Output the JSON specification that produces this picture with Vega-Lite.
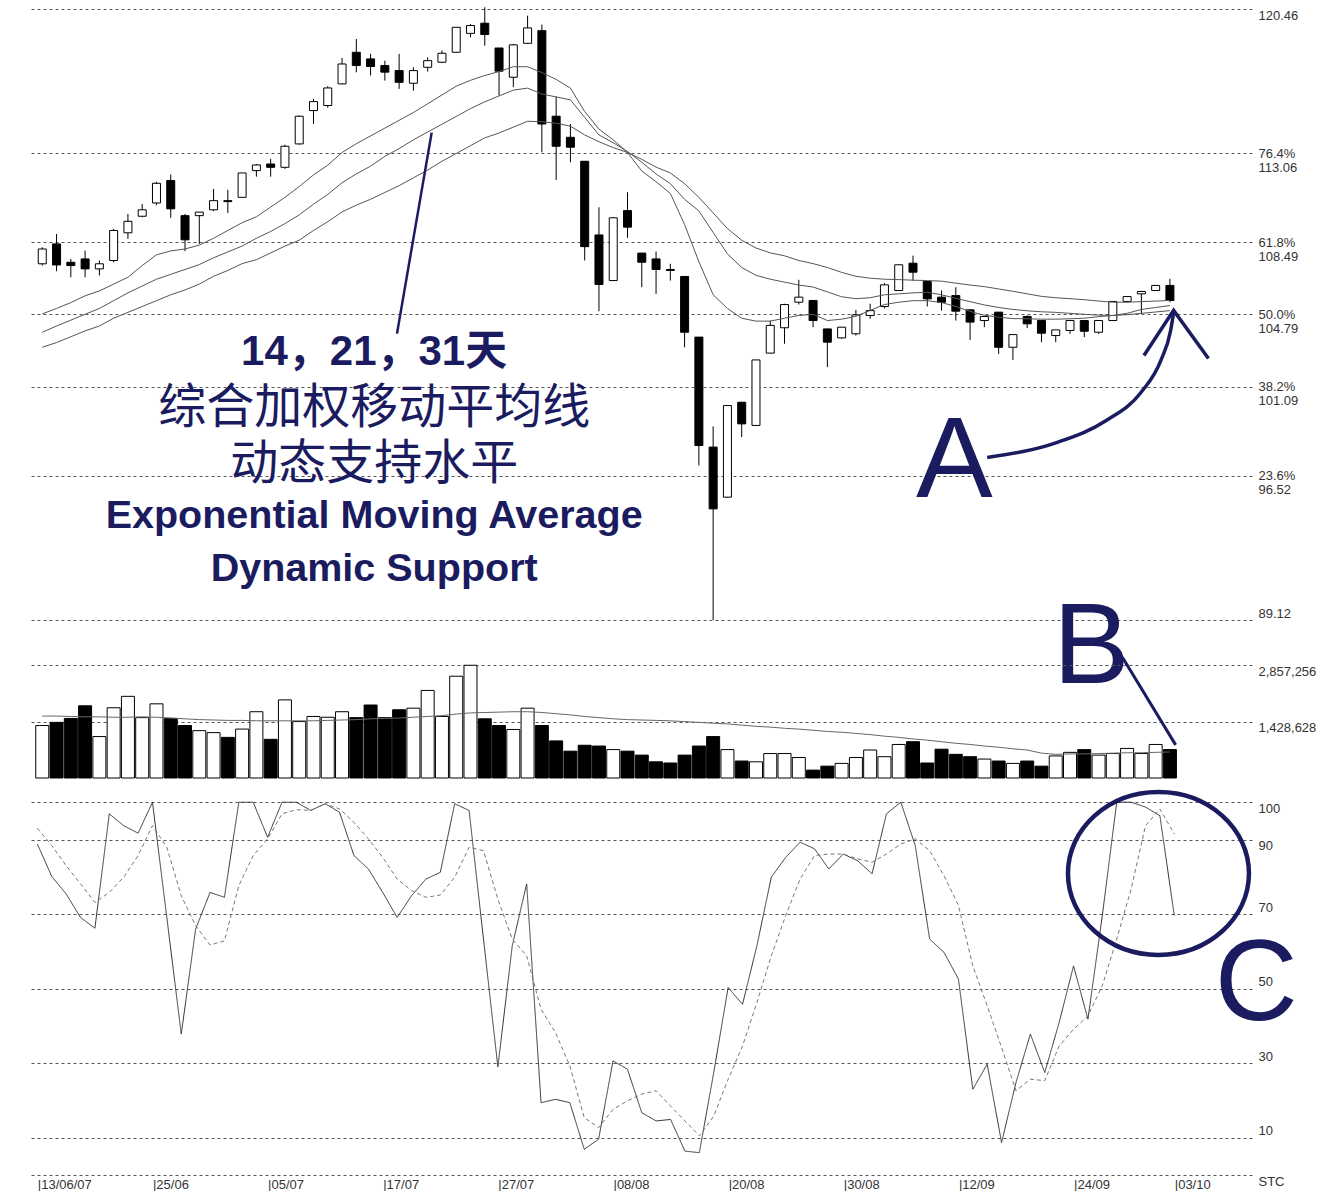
{
  "$schema": "https://vega.github.io/schema/vega-lite/v6.json",
  "padding": {"left": 30, "top": 6, "right": 0, "bottom": 0},
  "background": "white",
  "spacing": 0,
  "bounds": "flush",
  "config": {
    "view": {"stroke": null},
    "axis": {"labelFont": "Liberation Sans", "labelFontSize": 13, "labelColor": "#333"}
  },
  "datasets": {
    "d": [
      {"i":0,"o":107.39,"h":108.24,"l":107.30,"c":108.15,"v":1330000,"vm":1570000,"e14":104.82,"e21":103.88,"e31":103.11,"k":88.8,"d":93.0},
      {"i":1,"o":108.41,"h":108.92,"l":107.01,"c":107.33,"v":1410000,"vm":1570000,"e14":105.1,"e21":104.2,"e31":103.35,"k":80.1,"d":88.4},
      {"i":2,"o":107.47,"h":107.64,"l":106.70,"c":107.30,"v":1510000,"vm":1560000,"e14":105.4,"e21":104.5,"e31":103.65,"k":75.4,"d":83.0},
      {"i":3,"o":107.64,"h":108.07,"l":106.70,"c":107.13,"v":1830000,"vm":1550000,"e14":105.75,"e21":104.8,"e31":103.95,"k":69.1,"d":78.1},
      {"i":4,"o":107.13,"h":107.56,"l":106.79,"c":107.39,"v":1050000,"vm":1550000,"e14":106.0,"e21":105.1,"e31":104.2,"k":66.2,"d":73.1},
      {"i":5,"o":107.56,"h":109.18,"l":107.47,"c":109.10,"v":1780000,"vm":1540000,"e14":106.35,"e21":105.5,"e31":104.6,"k":96.9,"d":75.8},
      {"i":6,"o":108.98,"h":109.95,"l":108.67,"c":109.57,"v":2070000,"vm":1540000,"e14":106.7,"e21":105.9,"e31":104.9,"k":93.7,"d":79.9},
      {"i":7,"o":109.83,"h":110.46,"l":109.78,"c":110.16,"v":1530000,"vm":1550000,"e14":107.3,"e21":106.25,"e31":105.2,"k":91.7,"d":85.7},
      {"i":8,"o":110.51,"h":111.60,"l":110.40,"c":111.52,"v":1880000,"vm":1540000,"e14":107.85,"e21":106.6,"e31":105.5,"k":100,"d":93.7},
      {"i":9,"o":111.66,"h":111.97,"l":109.75,"c":110.21,"v":1510000,"vm":1520000,"e14":108.05,"e21":106.85,"e31":105.8,"k":69.0,"d":87.9},
      {"i":10,"o":109.86,"h":109.95,"l":108.04,"c":108.62,"v":1330000,"vm":1500000,"e14":108.15,"e21":107.1,"e31":106.05,"k":37.8,"d":74.9},
      {"i":11,"o":109.86,"h":110.04,"l":108.41,"c":110.04,"v":1200000,"vm":1480000,"e14":108.35,"e21":107.35,"e31":106.35,"k":66.0,"d":66.9},
      {"i":12,"o":110.16,"h":111.23,"l":110.09,"c":110.63,"v":1150000,"vm":1470000,"e14":108.7,"e21":107.7,"e31":106.75,"k":75.8,"d":61.7},
      {"i":13,"o":110.63,"h":111.18,"l":110.00,"c":110.58,"v":1030000,"vm":1460000,"e14":109.1,"e21":108.0,"e31":107.05,"k":74.5,"d":62.8},
      {"i":14,"o":110.80,"h":112.05,"l":110.80,"c":112.05,"v":1240000,"vm":1460000,"e14":109.5,"e21":108.3,"e31":107.4,"k":100,"d":77.6},
      {"i":15,"o":112.17,"h":112.51,"l":111.86,"c":112.46,"v":1680000,"vm":1450000,"e14":109.8,"e21":108.7,"e31":107.6,"k":100,"d":85.7},
      {"i":16,"o":112.51,"h":112.77,"l":111.86,"c":112.34,"v":980000,"vm":1450000,"e14":110.3,"e21":109.05,"e31":107.95,"k":90.6,"d":90.2},
      {"i":17,"o":112.34,"h":113.50,"l":112.26,"c":113.42,"v":1980000,"vm":1450000,"e14":110.8,"e21":109.45,"e31":108.3,"k":100,"d":96.9},
      {"i":18,"o":113.54,"h":115.00,"l":113.50,"c":114.96,"v":1430000,"vm":1450000,"e14":111.35,"e21":109.9,"e31":108.6,"k":100,"d":98.0},
      {"i":19,"o":115.25,"h":115.85,"l":114.56,"c":115.71,"v":1560000,"vm":1450000,"e14":111.95,"e21":110.45,"e31":109.1,"k":97.8,"d":97.8},
      {"i":20,"o":115.51,"h":116.50,"l":115.40,"c":116.41,"v":1540000,"vm":1460000,"e14":112.45,"e21":110.95,"e31":109.55,"k":99.6,"d":99.6},
      {"i":21,"o":116.62,"h":117.95,"l":116.60,"c":117.64,"v":1680000,"vm":1470000,"e14":113.1,"e21":111.55,"e31":110.05,"k":97.3,"d":98.2},
      {"i":22,"o":118.24,"h":118.92,"l":117.21,"c":117.56,"v":1530000,"vm":1480000,"e14":113.55,"e21":112.0,"e31":110.4,"k":85.7,"d":94.6},
      {"i":23,"o":117.90,"h":118.16,"l":117.05,"c":117.51,"v":1850000,"vm":1500000,"e14":113.95,"e21":112.4,"e31":110.7,"k":82.1,"d":90.2},
      {"i":24,"o":117.56,"h":117.81,"l":116.79,"c":117.22,"v":1530000,"vm":1510000,"e14":114.35,"e21":112.9,"e31":111.05,"k":75.8,"d":85.2},
      {"i":25,"o":117.30,"h":118.16,"l":116.36,"c":116.70,"v":1730000,"vm":1520000,"e14":114.75,"e21":113.3,"e31":111.4,"k":69.1,"d":79.4},
      {"i":26,"o":116.65,"h":117.47,"l":116.27,"c":117.30,"v":1770000,"vm":1540000,"e14":115.15,"e21":113.75,"e31":111.8,"k":74.9,"d":76.3},
      {"i":27,"o":117.47,"h":117.98,"l":117.25,"c":117.81,"v":2220000,"vm":1560000,"e14":115.6,"e21":114.15,"e31":112.2,"k":79.4,"d":74.5},
      {"i":28,"o":117.73,"h":118.33,"l":117.68,"c":118.19,"v":1560000,"vm":1580000,"e14":116.05,"e21":114.55,"e31":112.65,"k":81.2,"d":75.1},
      {"i":29,"o":118.24,"h":119.52,"l":118.20,"c":119.52,"v":2580000,"vm":1620000,"e14":116.5,"e21":114.95,"e31":113.05,"k":99.6,"d":79.9},
      {"i":30,"o":119.21,"h":119.69,"l":119.01,"c":119.61,"v":2857256,"vm":1650000,"e14":116.8,"e21":115.35,"e31":113.45,"k":97.8,"d":87.9},
      {"i":31,"o":119.73,"h":120.55,"l":118.58,"c":119.15,"v":1500000,"vm":1660000,"e14":117.05,"e21":115.7,"e31":113.85,"k":63.3,"d":87.0},
      {"i":32,"o":118.46,"h":118.46,"l":116.02,"c":117.27,"v":1330000,"vm":1670000,"e14":117.25,"e21":116.0,"e31":114.1,"k":29.0,"d":74.0},
      {"i":33,"o":116.96,"h":118.67,"l":116.45,"c":118.62,"v":1230000,"vm":1680000,"e14":117.5,"e21":116.3,"e31":114.4,"k":61.5,"d":63.3},
      {"i":34,"o":118.70,"h":120.12,"l":118.67,"c":119.49,"v":1770000,"vm":1680000,"e14":117.5,"e21":116.4,"e31":114.7,"k":78.1,"d":58.8},
      {"i":35,"o":119.35,"h":119.66,"l":113.11,"c":114.56,"v":1330000,"vm":1660000,"e14":117.2,"e21":116.1,"e31":114.68,"k":19.4,"d":44.5},
      {"i":36,"o":114.96,"h":115.97,"l":111.69,"c":113.42,"v":940000,"vm":1630000,"e14":116.85,"e21":115.95,"e31":114.6,"k":20.3,"d":38.2},
      {"i":37,"o":113.88,"h":114.56,"l":112.60,"c":113.37,"v":680000,"vm":1600000,"e14":116.4,"e21":115.8,"e31":114.45,"k":19.4,"d":29.3},
      {"i":38,"o":112.65,"h":112.65,"l":107.56,"c":108.27,"v":830000,"vm":1560000,"e14":115.2,"e21":114.9,"e31":114.0,"k":6.9,"d":15.4},
      {"i":39,"o":108.87,"h":110.29,"l":104.96,"c":106.33,"v":810000,"vm":1530000,"e14":114.3,"e21":114.0,"e31":113.65,"k":9.6,"d":12.7},
      {"i":40,"o":106.53,"h":109.78,"l":106.50,"c":109.75,"v":720000,"vm":1500000,"e14":113.75,"e21":113.6,"e31":113.35,"k":30.6,"d":17.6},
      {"i":41,"o":110.12,"h":111.06,"l":108.72,"c":109.27,"v":680000,"vm":1480000,"e14":113.1,"e21":113.15,"e31":113.1,"k":28.4,"d":19.9},
      {"i":42,"o":107.94,"h":107.94,"l":106.19,"c":107.47,"v":580000,"vm":1470000,"e14":112.15,"e21":112.6,"e31":112.75,"k":16.7,"d":21.7},
      {"i":43,"o":107.64,"h":108.02,"l":105.85,"c":107.10,"v":410000,"vm":1460000,"e14":111.6,"e21":112.0,"e31":112.35,"k":14.5,"d":22.6},
      {"i":44,"o":107.10,"h":107.39,"l":106.53,"c":107.05,"v":380000,"vm":1450000,"e14":111.0,"e21":111.5,"e31":112.05,"k":14.9,"d":18.5},
      {"i":45,"o":106.74,"h":106.74,"l":103.11,"c":103.88,"v":580000,"vm":1430000,"e14":109.4,"e21":110.7,"e31":111.5,"k":6.4,"d":14.5},
      {"i":46,"o":103.63,"h":103.63,"l":97.05,"c":98.07,"v":810000,"vm":1410000,"e14":107.5,"e21":110.1,"e31":110.8,"k":6.0,"d":10.5},
      {"i":47,"o":97.99,"h":99.05,"l":89.12,"c":94.82,"v":1050000,"vm":1390000,"e14":105.8,"e21":109.0,"e31":110.0,"k":27.5,"d":15.8},
      {"i":48,"o":95.42,"h":100.12,"l":95.40,"c":100.12,"v":720000,"vm":1370000,"e14":105.1,"e21":107.9,"e31":109.2,"k":50.3,"d":25.7},
      {"i":49,"o":100.29,"h":100.29,"l":98.50,"c":99.18,"v":430000,"vm":1340000,"e14":104.6,"e21":107.2,"e31":108.6,"k":45.8,"d":34.6},
      {"i":50,"o":99.10,"h":102.46,"l":99.08,"c":102.46,"v":410000,"vm":1310000,"e14":104.45,"e21":106.8,"e31":108.2,"k":61.5,"d":46.3},
      {"i":51,"o":102.81,"h":104.48,"l":102.80,"c":104.23,"v":620000,"vm":1290000,"e14":104.45,"e21":106.6,"e31":107.95,"k":79.9,"d":58.8},
      {"i":52,"o":104.11,"h":105.34,"l":103.29,"c":105.30,"v":620000,"vm":1260000,"e14":104.6,"e21":106.45,"e31":107.8,"k":85.2,"d":69.6},
      {"i":53,"o":105.42,"h":106.57,"l":105.30,"c":105.68,"v":520000,"vm":1240000,"e14":104.74,"e21":106.3,"e31":107.56,"k":89.3,"d":79.4},
      {"i":54,"o":105.51,"h":105.51,"l":104.14,"c":104.48,"v":200000,"vm":1210000,"e14":104.8,"e21":106.2,"e31":107.4,"k":87.5,"d":85.7},
      {"i":55,"o":104.05,"h":104.05,"l":102.09,"c":103.37,"v":300000,"vm":1180000,"e14":104.48,"e21":105.95,"e31":107.2,"k":82.1,"d":86.1},
      {"i":56,"o":103.59,"h":104.14,"l":103.55,"c":104.14,"v":370000,"vm":1160000,"e14":104.55,"e21":105.7,"e31":106.95,"k":86.1,"d":86.1},
      {"i":57,"o":103.80,"h":105.03,"l":103.71,"c":104.77,"v":520000,"vm":1130000,"e14":104.7,"e21":105.6,"e31":106.75,"k":84.3,"d":84.8},
      {"i":58,"o":104.74,"h":105.34,"l":104.57,"c":104.99,"v":710000,"vm":1100000,"e14":105.0,"e21":105.65,"e31":106.65,"k":80.8,"d":83.9},
      {"i":59,"o":105.20,"h":106.40,"l":105.10,"c":106.31,"v":540000,"vm":1060000,"e14":105.3,"e21":105.8,"e31":106.6,"k":96.9,"d":86.1},
      {"i":60,"o":106.02,"h":107.34,"l":106.00,"c":107.34,"v":850000,"vm":1030000,"e14":105.42,"e21":105.85,"e31":106.58,"k":100,"d":88.8},
      {"i":61,"o":107.42,"h":107.81,"l":106.53,"c":106.96,"v":920000,"vm":990000,"e14":105.5,"e21":105.9,"e31":106.55,"k":88.4,"d":90.2},
      {"i":62,"o":106.48,"h":106.48,"l":105.20,"c":105.59,"v":380000,"vm":960000,"e14":105.5,"e21":105.93,"e31":106.53,"k":63.3,"d":87.0},
      {"i":63,"o":105.68,"h":106.02,"l":104.99,"c":105.42,"v":730000,"vm":920000,"e14":105.4,"e21":105.8,"e31":106.5,"k":59.7,"d":80.3},
      {"i":64,"o":105.76,"h":106.19,"l":104.48,"c":104.96,"v":600000,"vm":880000,"e14":105.2,"e21":105.62,"e31":106.4,"k":52.6,"d":72.3},
      {"i":65,"o":105.03,"h":105.03,"l":103.49,"c":104.40,"v":540000,"vm":850000,"e14":104.95,"e21":105.45,"e31":106.3,"k":23.0,"d":56.1},
      {"i":66,"o":104.48,"h":104.70,"l":104.14,"c":104.69,"v":480000,"vm":810000,"e14":104.75,"e21":105.28,"e31":106.22,"k":29.7,"d":45.4},
      {"i":67,"o":104.91,"h":104.91,"l":102.77,"c":103.11,"v":430000,"vm":780000,"e14":104.65,"e21":105.15,"e31":106.1,"k":8.7,"d":34.2},
      {"i":68,"o":103.11,"h":103.76,"l":102.46,"c":103.76,"v":370000,"vm":740000,"e14":104.58,"e21":105.05,"e31":105.98,"k":24.8,"d":22.6},
      {"i":69,"o":104.69,"h":104.74,"l":104.09,"c":104.31,"v":430000,"vm":710000,"e14":104.57,"e21":104.98,"e31":105.85,"k":37.8,"d":25.7},
      {"i":70,"o":104.48,"h":104.48,"l":103.37,"c":103.83,"v":300000,"vm":630000,"e14":104.55,"e21":104.93,"e31":105.72,"k":27.5,"d":25.3},
      {"i":71,"o":103.71,"h":104.00,"l":103.37,"c":104.00,"v":560000,"vm":600000,"e14":104.55,"e21":104.9,"e31":105.65,"k":40.9,"d":34.6},
      {"i":72,"o":103.97,"h":104.48,"l":103.80,"c":104.48,"v":650000,"vm":610000,"e14":104.57,"e21":104.85,"e31":105.6,"k":56.1,"d":39.1},
      {"i":73,"o":104.48,"h":104.48,"l":103.63,"c":103.93,"v":720000,"vm":610000,"e14":104.6,"e21":104.8,"e31":105.55,"k":41.8,"d":42.7},
      {"i":74,"o":103.88,"h":104.48,"l":103.80,"c":104.48,"v":580000,"vm":620000,"e14":104.68,"e21":104.76,"e31":105.48,"k":69.6,"d":50.8},
      {"i":75,"o":104.48,"h":105.46,"l":104.45,"c":105.46,"v":620000,"vm":630000,"e14":104.74,"e21":104.74,"e31":105.42,"k":100,"d":63.3},
      {"i":76,"o":105.46,"h":105.72,"l":105.40,"c":105.71,"v":750000,"vm":640000,"e14":104.85,"e21":104.78,"e31":105.42,"k":100,"d":76.7},
      {"i":77,"o":105.85,"h":106.00,"l":104.82,"c":105.97,"v":620000,"vm":640000,"e14":105.05,"e21":104.85,"e31":105.45,"k":98.7,"d":93.7},
      {"i":78,"o":106.02,"h":106.30,"l":106.00,"c":106.28,"v":850000,"vm":650000,"e14":105.15,"e21":104.92,"e31":105.48,"k":96.4,"d":98.2},
      {"i":79,"o":106.28,"h":106.62,"l":105.42,"c":105.51,"v":720000,"vm":660000,"e14":105.25,"e21":104.99,"e31":105.51,"k":69.6,"d":91.5}
    ]
  },
  "data": {"name": "d"},
  "vconcat": [
    {
      "width": 1222,
      "height": 611,
      "layer": [
        {
          "mark": {"type": "rule", "color": "#000", "strokeWidth": 1},
          "encoding": {
            "x": {"field": "i", "type": "quantitative", "scale": {"domain": [-0.51, 84.4], "nice": false, "zero": false}, "axis": null},
            "y": {"field": "l", "type": "quantitative", "scale": {"domain": [89.12, 120.46], "nice": false, "zero": false},
              "axis": {"orient": "right", "values": [89.12, 96.52, 101.09, 104.79, 108.49, 113.06, 120.46], "title": null, "grid": true, "gridDash": [3, 3], "gridColor": "#555", "domain": false, "ticks": false, "labelPadding": 6, "labelOverlap": false, "labelLineHeight": 14,
                "labelExpr": "datum.value > 120 ? '120.46' : datum.value > 113 ? ['76.4%', '113.06'] : datum.value > 108 ? ['61.8%', '108.49'] : datum.value > 104 ? ['50.0%', '104.79'] : datum.value > 101 ? ['38.2%', '101.09'] : datum.value > 96 ? ['23.6%', '96.52'] : '89.12'",
                "labelBaseline": {"condition": [{"test": "datum.value > 120", "value": "top"}, {"test": "datum.value < 90", "value": "bottom"}], "value": "middle"}}},
            "y2": {"field": "h"}
          }
        },
        {
          "mark": {"type": "bar", "size": 8, "stroke": "#000", "strokeWidth": 1},
          "encoding": {
            "x": {"field": "i", "type": "quantitative", "scale": {"domain": [-0.51, 84.4], "nice": false, "zero": false}, "axis": null},
            "y": {"field": "o", "type": "quantitative", "scale": {"domain": [89.12, 120.46], "nice": false, "zero": false},
              "axis": {"orient": "right", "values": [89.12, 96.52, 101.09, 104.79, 108.49, 113.06, 120.46], "title": null, "grid": true, "gridDash": [3, 3], "gridColor": "#555", "domain": false, "ticks": false, "labelPadding": 6, "labelOverlap": false, "labelLineHeight": 14,
                "labelExpr": "datum.value > 120 ? '120.46' : datum.value > 113 ? ['76.4%', '113.06'] : datum.value > 108 ? ['61.8%', '108.49'] : datum.value > 104 ? ['50.0%', '104.79'] : datum.value > 101 ? ['38.2%', '101.09'] : datum.value > 96 ? ['23.6%', '96.52'] : '89.12'",
                "labelBaseline": {"condition": [{"test": "datum.value > 120", "value": "top"}, {"test": "datum.value < 90", "value": "bottom"}], "value": "middle"}}},
            "y2": {"field": "c"},
            "fill": {"condition": {"test": "datum.c > datum.o", "value": "#ffffff"}, "value": "#000000"}
          }
        },
        {
          "transform": [{"fold": ["e14", "e21", "e31"], "as": ["ma", "mv"]}],
          "mark": {"type": "line", "color": "#555", "strokeWidth": 1},
          "encoding": {
            "x": {"field": "i", "type": "quantitative", "scale": {"domain": [-0.51, 84.4], "nice": false, "zero": false}, "axis": null},
            "y": {"field": "mv", "type": "quantitative", "scale": {"domain": [89.12, 120.46], "nice": false, "zero": false},
              "axis": {"orient": "right", "values": [89.12, 96.52, 101.09, 104.79, 108.49, 113.06, 120.46], "title": null, "grid": true, "gridDash": [3, 3], "gridColor": "#555", "domain": false, "ticks": false, "labelPadding": 6, "labelOverlap": false, "labelLineHeight": 14,
                "labelExpr": "datum.value > 120 ? '120.46' : datum.value > 113 ? ['76.4%', '113.06'] : datum.value > 108 ? ['61.8%', '108.49'] : datum.value > 104 ? ['50.0%', '104.79'] : datum.value > 101 ? ['38.2%', '101.09'] : datum.value > 96 ? ['23.6%', '96.52'] : '89.12'",
                "labelBaseline": {"condition": [{"test": "datum.value > 120", "value": "top"}, {"test": "datum.value < 90", "value": "bottom"}], "value": "middle"}}},
            "detail": {"field": "ma", "type": "nominal"}
          }
        },
        {
          "data": {"values": [{"i": 24.85, "p": 103.81}, {"i": 27.28, "p": 114.12}]},
          "mark": {"type": "line", "color": "#1b1b60", "strokeWidth": 2.5},
          "encoding": {
            "x": {"field": "i", "type": "quantitative", "scale": {"domain": [-0.51, 84.4], "nice": false, "zero": false}, "axis": null},
            "y": {"field": "p", "type": "quantitative", "scale": {"domain": [89.12, 120.46], "nice": false, "zero": false},
              "axis": {"orient": "right", "values": [89.12, 96.52, 101.09, 104.79, 108.49, 113.06, 120.46], "title": null, "grid": true, "gridDash": [3, 3], "gridColor": "#555", "domain": false, "ticks": false, "labelPadding": 6, "labelOverlap": false, "labelLineHeight": 14,
                "labelExpr": "datum.value > 120 ? '120.46' : datum.value > 113 ? ['76.4%', '113.06'] : datum.value > 108 ? ['61.8%', '108.49'] : datum.value > 104 ? ['50.0%', '104.79'] : datum.value > 101 ? ['38.2%', '101.09'] : datum.value > 96 ? ['23.6%', '96.52'] : '89.12'",
                "labelBaseline": {"condition": [{"test": "datum.value > 120", "value": "top"}, {"test": "datum.value < 90", "value": "bottom"}], "value": "middle"}}}
          }
        },
        {
          "data": {"values": [{"i": 66.2, "p": 97.46}, {"i": 71.06, "p": 98.22}, {"i": 74.54, "p": 99.35}, {"i": 76.97, "p": 100.79}, {"i": 78.36, "p": 102.43}, {"i": 79.05, "p": 103.97}, {"i": 79.26, "p": 104.89}]},
          "mark": {"type": "line", "color": "#1b1b60", "strokeWidth": 3.5, "interpolate": "monotone"},
          "encoding": {
            "x": {"field": "i", "type": "quantitative", "scale": {"domain": [-0.51, 84.4], "nice": false, "zero": false}, "axis": null},
            "y": {"field": "p", "type": "quantitative", "scale": {"domain": [89.12, 120.46], "nice": false, "zero": false},
              "axis": {"orient": "right", "values": [89.12, 96.52, 101.09, 104.79, 108.49, 113.06, 120.46], "title": null, "grid": true, "gridDash": [3, 3], "gridColor": "#555", "domain": false, "ticks": false, "labelPadding": 6, "labelOverlap": false, "labelLineHeight": 14,
                "labelExpr": "datum.value > 120 ? '120.46' : datum.value > 113 ? ['76.4%', '113.06'] : datum.value > 108 ? ['61.8%', '108.49'] : datum.value > 104 ? ['50.0%', '104.79'] : datum.value > 101 ? ['38.2%', '101.09'] : datum.value > 96 ? ['23.6%', '96.52'] : '89.12'",
                "labelBaseline": {"condition": [{"test": "datum.value > 120", "value": "top"}, {"test": "datum.value < 90", "value": "bottom"}], "value": "middle"}}}
          }
        },
        {
          "data": {"values": [{"i": 77.18, "p": 102.69}, {"i": 79.26, "p": 105.0}, {"i": 81.7, "p": 102.53}]},
          "mark": {"type": "line", "color": "#1b1b60", "strokeWidth": 3.5},
          "encoding": {
            "x": {"field": "i", "type": "quantitative", "scale": {"domain": [-0.51, 84.4], "nice": false, "zero": false}, "axis": null},
            "y": {"field": "p", "type": "quantitative", "scale": {"domain": [89.12, 120.46], "nice": false, "zero": false},
              "axis": {"orient": "right", "values": [89.12, 96.52, 101.09, 104.79, 108.49, 113.06, 120.46], "title": null, "grid": true, "gridDash": [3, 3], "gridColor": "#555", "domain": false, "ticks": false, "labelPadding": 6, "labelOverlap": false, "labelLineHeight": 14,
                "labelExpr": "datum.value > 120 ? '120.46' : datum.value > 113 ? ['76.4%', '113.06'] : datum.value > 108 ? ['61.8%', '108.49'] : datum.value > 104 ? ['50.0%', '104.79'] : datum.value > 101 ? ['38.2%', '101.09'] : datum.value > 96 ? ['23.6%', '96.52'] : '89.12'",
                "labelBaseline": {"condition": [{"test": "datum.value > 120", "value": "top"}, {"test": "datum.value < 90", "value": "bottom"}], "value": "middle"}}}
          }
        },
        {
          "data": {"values": [{"i": 23.25, "p": 102.87, "t": "14，21，31天"}]},
          "mark": {"type": "text", "font": "Liberation Sans, Noto Sans CJK SC", "fontSize": 42, "fontWeight": "bold", "color": "#1b1b60", "align": "center", "baseline": "middle"},
          "encoding": {
            "x": {"field": "i", "type": "quantitative", "scale": {"domain": [-0.51, 84.4], "nice": false, "zero": false}, "axis": null},
            "y": {"field": "p", "type": "quantitative", "scale": {"domain": [89.12, 120.46], "nice": false, "zero": false},
              "axis": {"orient": "right", "values": [89.12, 96.52, 101.09, 104.79, 108.49, 113.06, 120.46], "title": null, "grid": true, "gridDash": [3, 3], "gridColor": "#555", "domain": false, "ticks": false, "labelPadding": 6, "labelOverlap": false, "labelLineHeight": 14,
                "labelExpr": "datum.value > 120 ? '120.46' : datum.value > 113 ? ['76.4%', '113.06'] : datum.value > 108 ? ['61.8%', '108.49'] : datum.value > 104 ? ['50.0%', '104.79'] : datum.value > 101 ? ['38.2%', '101.09'] : datum.value > 96 ? ['23.6%', '96.52'] : '89.12'",
                "labelBaseline": {"condition": [{"test": "datum.value > 120", "value": "top"}, {"test": "datum.value < 90", "value": "bottom"}], "value": "middle"}}},
            "text": {"field": "t"}
          }
        },
        {
          "data": {"values": [{"i": 23.25, "p": 99.94, "t": "综合加权移动平均线"}, {"i": 23.25, "p": 97.07, "t": "动态支持水平"}]},
          "mark": {"type": "text", "font": "Noto Sans CJK SC", "fontSize": 48, "color": "#1b1b60", "align": "center", "baseline": "middle"},
          "encoding": {
            "x": {"field": "i", "type": "quantitative", "scale": {"domain": [-0.51, 84.4], "nice": false, "zero": false}, "axis": null},
            "y": {"field": "p", "type": "quantitative", "scale": {"domain": [89.12, 120.46], "nice": false, "zero": false},
              "axis": {"orient": "right", "values": [89.12, 96.52, 101.09, 104.79, 108.49, 113.06, 120.46], "title": null, "grid": true, "gridDash": [3, 3], "gridColor": "#555", "domain": false, "ticks": false, "labelPadding": 6, "labelOverlap": false, "labelLineHeight": 14,
                "labelExpr": "datum.value > 120 ? '120.46' : datum.value > 113 ? ['76.4%', '113.06'] : datum.value > 108 ? ['61.8%', '108.49'] : datum.value > 104 ? ['50.0%', '104.79'] : datum.value > 101 ? ['38.2%', '101.09'] : datum.value > 96 ? ['23.6%', '96.52'] : '89.12'",
                "labelBaseline": {"condition": [{"test": "datum.value > 120", "value": "top"}, {"test": "datum.value < 90", "value": "bottom"}], "value": "middle"}}},
            "text": {"field": "t"}
          }
        },
        {
          "data": {"values": [{"i": 23.25, "p": 94.47, "t": "Exponential Moving Average"}, {"i": 23.25, "p": 91.76, "t": "Dynamic Support"}]},
          "mark": {"type": "text", "font": "Liberation Sans", "fontSize": 39.5, "fontWeight": "bold", "color": "#1b1b60", "align": "center", "baseline": "middle"},
          "encoding": {
            "x": {"field": "i", "type": "quantitative", "scale": {"domain": [-0.51, 84.4], "nice": false, "zero": false}, "axis": null},
            "y": {"field": "p", "type": "quantitative", "scale": {"domain": [89.12, 120.46], "nice": false, "zero": false},
              "axis": {"orient": "right", "values": [89.12, 96.52, 101.09, 104.79, 108.49, 113.06, 120.46], "title": null, "grid": true, "gridDash": [3, 3], "gridColor": "#555", "domain": false, "ticks": false, "labelPadding": 6, "labelOverlap": false, "labelLineHeight": 14,
                "labelExpr": "datum.value > 120 ? '120.46' : datum.value > 113 ? ['76.4%', '113.06'] : datum.value > 108 ? ['61.8%', '108.49'] : datum.value > 104 ? ['50.0%', '104.79'] : datum.value > 101 ? ['38.2%', '101.09'] : datum.value > 96 ? ['23.6%', '96.52'] : '89.12'",
                "labelBaseline": {"condition": [{"test": "datum.value > 120", "value": "top"}, {"test": "datum.value < 90", "value": "bottom"}], "value": "middle"}}},
            "text": {"field": "t"}
          }
        },
        {
          "data": {"values": [{"i": 63.9, "p": 97.21, "t": "A"}, {"i": 73.5, "p": 87.67, "t": "B"}]},
          "mark": {"type": "text", "font": "Liberation Sans", "fontSize": 115, "color": "#1b1b60", "align": "center", "baseline": "middle"},
          "encoding": {
            "x": {"field": "i", "type": "quantitative", "scale": {"domain": [-0.51, 84.4], "nice": false, "zero": false}, "axis": null},
            "y": {"field": "p", "type": "quantitative", "scale": {"domain": [89.12, 120.46], "nice": false, "zero": false},
              "axis": {"orient": "right", "values": [89.12, 96.52, 101.09, 104.79, 108.49, 113.06, 120.46], "title": null, "grid": true, "gridDash": [3, 3], "gridColor": "#555", "domain": false, "ticks": false, "labelPadding": 6, "labelOverlap": false, "labelLineHeight": 14,
                "labelExpr": "datum.value > 120 ? '120.46' : datum.value > 113 ? ['76.4%', '113.06'] : datum.value > 108 ? ['61.8%', '108.49'] : datum.value > 104 ? ['50.0%', '104.79'] : datum.value > 101 ? ['38.2%', '101.09'] : datum.value > 96 ? ['23.6%', '96.52'] : '89.12'",
                "labelBaseline": {"condition": [{"test": "datum.value > 120", "value": "top"}, {"test": "datum.value < 90", "value": "bottom"}], "value": "middle"}}},
            "text": {"field": "t"}
          }
        }
      ]
    },
    {
      "width": 1222,
      "height": 158,
      "layer": [
        {
          "mark": {"type": "bar", "size": 13, "stroke": "#000", "strokeWidth": 1},
          "encoding": {
            "x": {"field": "i", "type": "quantitative", "scale": {"domain": [-0.51, 84.4], "nice": false, "zero": false}, "axis": null},
            "y": {"field": "v", "type": "quantitative", "scale": {"domain": [0, 4005000], "nice": false},
              "axis": {"orient": "right", "values": [1428628, 2857256], "format": ",d", "title": null, "grid": true, "gridDash": [3, 3], "gridColor": "#555", "domain": false, "ticks": false, "labelPadding": 6, "labelOverlap": false, "labelBaseline": "top"}},
            "fill": {"condition": {"test": "datum.c > datum.o", "value": "#ffffff"}, "value": "#000000"}
          }
        },
        {
          "mark": {"type": "line", "color": "#666", "strokeWidth": 1},
          "encoding": {
            "x": {"field": "i", "type": "quantitative", "scale": {"domain": [-0.51, 84.4], "nice": false, "zero": false}, "axis": null},
            "y": {"field": "vm", "type": "quantitative", "scale": {"domain": [0, 4005000], "nice": false},
              "axis": {"orient": "right", "values": [1428628, 2857256], "format": ",d", "title": null, "grid": true, "gridDash": [3, 3], "gridColor": "#555", "domain": false, "ticks": false, "labelPadding": 6, "labelOverlap": false, "labelBaseline": "top"}}
          }
        },
        {
          "data": {"values": [{"i": 75.67, "v": 3060000}, {"i": 79.4, "v": 840000}]},
          "mark": {"type": "line", "color": "#1b1b60", "strokeWidth": 3},
          "encoding": {
            "x": {"field": "i", "type": "quantitative", "scale": {"domain": [-0.51, 84.4], "nice": false, "zero": false}, "axis": null},
            "y": {"field": "v", "type": "quantitative", "scale": {"domain": [0, 4005000], "nice": false},
              "axis": {"orient": "right", "values": [1428628, 2857256], "format": ",d", "title": null, "grid": true, "gridDash": [3, 3], "gridColor": "#555", "domain": false, "ticks": false, "labelPadding": 6, "labelOverlap": false, "labelBaseline": "top"}}
          }
        }
      ]
    },
    {
      "width": 1222,
      "height": 397,
      "layer": [
        {
          "transform": [{"fold": ["k", "d"], "as": ["key", "sv"]}],
          "mark": {"type": "line", "strokeWidth": 1},
          "encoding": {
            "x": {"field": "i", "type": "quantitative", "scale": {"domain": [-0.51, 84.4], "nice": false, "zero": false},
              "axis": {"orient": "bottom", "values": [0, 8, 16, 24, 32, 40, 48, 56, 64, 72, 79], "title": null, "grid": false, "domain": false, "ticks": false, "labelAlign": "left", "labelBaseline": "top", "labelPadding": 3, "labelFlush": false, "labelOverlap": false, "labelFontSize": 13,
                "labelExpr": "'|' + ['13/06/07', '25/06', '05/07', '17/07', '27/07', '08/08', '20/08', '30/08', '12/09', '24/09', '03/10'][datum.value == 79 ? 10 : datum.value / 8]"}},
            "y": {"field": "sv", "type": "quantitative", "scale": {"domain": [0, 106.5], "nice": false},
              "axis": {"orient": "right", "values": [0, 10, 30, 50, 70, 90, 100], "title": null, "grid": true, "gridDash": [3, 3], "gridColor": "#555", "domain": false, "ticks": false, "labelPadding": 6, "labelOverlap": false,
                "labelExpr": "datum.value == 0 ? 'STC' : datum.label",
                "labelBaseline": {"condition": {"test": "datum.value >= 90 || datum.value == 0", "value": "top"}, "value": "bottom"}}},
            "detail": {"field": "key", "type": "nominal"},
            "color": {"field": "key", "type": "nominal", "scale": {"domain": ["k", "d"], "range": ["#333333", "#777777"]}, "legend": null},
            "strokeDash": {"field": "key", "type": "nominal", "scale": {"domain": ["k", "d"], "range": [[1, 0], [4, 3]]}, "legend": null}
          }
        },
        {
          "data": {"values": [{"i": 77.9, "s": 80.9}]},
          "mark": {"type": "point", "shape": "M1,0C1,0.497,0.5523,0.9,0,0.9C-0.5523,0.9,-1,0.497,-1,0C-1,-0.497,-0.5523,-0.9,0,-0.9C0.5523,-0.9,1,-0.497,1,0Z", "size": 32761, "filled": false, "stroke": "#1b1b60", "strokeWidth": 4.5, "opacity": 1},
          "encoding": {
            "x": {"field": "i", "type": "quantitative", "scale": {"domain": [-0.51, 84.4], "nice": false, "zero": false},
              "axis": {"orient": "bottom", "values": [0, 8, 16, 24, 32, 40, 48, 56, 64, 72, 79], "title": null, "grid": false, "domain": false, "ticks": false, "labelAlign": "left", "labelBaseline": "top", "labelPadding": 3, "labelFlush": false, "labelOverlap": false, "labelFontSize": 13,
                "labelExpr": "'|' + ['13/06/07', '25/06', '05/07', '17/07', '27/07', '08/08', '20/08', '30/08', '12/09', '24/09', '03/10'][datum.value == 79 ? 10 : datum.value / 8]"}},
            "y": {"field": "s", "type": "quantitative", "scale": {"domain": [0, 106.5], "nice": false},
              "axis": {"orient": "right", "values": [0, 10, 30, 50, 70, 90, 100], "title": null, "grid": true, "gridDash": [3, 3], "gridColor": "#555", "domain": false, "ticks": false, "labelPadding": 6, "labelOverlap": false,
                "labelExpr": "datum.value == 0 ? 'STC' : datum.label",
                "labelBaseline": {"condition": {"test": "datum.value >= 90 || datum.value == 0", "value": "top"}, "value": "bottom"}}}
          }
        },
        {
          "data": {"values": [{"i": 84.7, "s": 51.06, "t": "C"}]},
          "mark": {"type": "text", "font": "Liberation Sans", "fontSize": 115, "color": "#1b1b60", "align": "center", "baseline": "middle"},
          "encoding": {
            "x": {"field": "i", "type": "quantitative", "scale": {"domain": [-0.51, 84.4], "nice": false, "zero": false},
              "axis": {"orient": "bottom", "values": [0, 8, 16, 24, 32, 40, 48, 56, 64, 72, 79], "title": null, "grid": false, "domain": false, "ticks": false, "labelAlign": "left", "labelBaseline": "top", "labelPadding": 3, "labelFlush": false, "labelOverlap": false, "labelFontSize": 13,
                "labelExpr": "'|' + ['13/06/07', '25/06', '05/07', '17/07', '27/07', '08/08', '20/08', '30/08', '12/09', '24/09', '03/10'][datum.value == 79 ? 10 : datum.value / 8]"}},
            "y": {"field": "s", "type": "quantitative", "scale": {"domain": [0, 106.5], "nice": false},
              "axis": {"orient": "right", "values": [0, 10, 30, 50, 70, 90, 100], "title": null, "grid": true, "gridDash": [3, 3], "gridColor": "#555", "domain": false, "ticks": false, "labelPadding": 6, "labelOverlap": false,
                "labelExpr": "datum.value == 0 ? 'STC' : datum.label",
                "labelBaseline": {"condition": {"test": "datum.value >= 90 || datum.value == 0", "value": "top"}, "value": "bottom"}}},
            "text": {"field": "t"}
          }
        }
      ]
    }
  ]
}
